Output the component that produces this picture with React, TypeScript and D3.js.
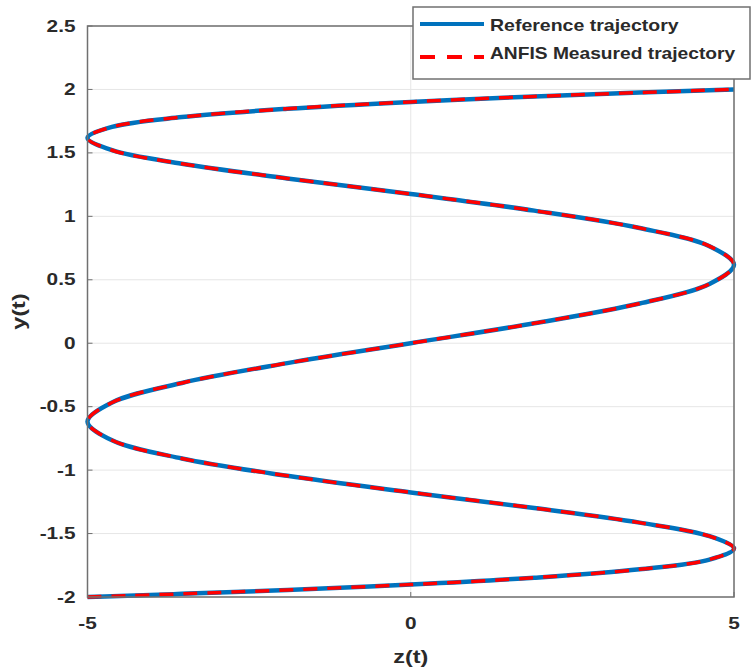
import React from "react";
import * as d3 from "d3";

// Points read along the trajectory (y(t), z(t)), bottom to top
const yValues = [
  -2, -1.994, -1.975, -1.945, -1.902, -1.848, -1.782, -1.705, -1.618, -1.521,
  -1.414, -1.299, -1.176, -1.045, -0.908, -0.765, -0.618, -0.467, -0.313, -0.157,
  0,
  0.157, 0.313, 0.467, 0.618, 0.765, 0.908, 1.045, 1.176, 1.299, 1.414,
  1.521, 1.618, 1.705, 1.782, 1.848, 1.902, 1.945, 1.975, 1.994, 2,
];
const zValues = [
  -5, -4.62, -3.54, -1.91, 0, 1.91, 3.54, 4.62, 5, 4.62,
  3.54, 1.91, 0, -1.91, -3.54, -4.62, -5, -4.62, -3.54, -1.91,
  0,
  1.91, 3.54, 4.62, 5, 4.62, 3.54, 1.91, 0, -1.91, -3.54,
  -4.62, -5, -4.62, -3.54, -1.91, 0, 1.91, 3.54, 4.62, 5,
];
const xTicks = [-5, 0, 5];
const yTicks = [-2, -1.5, -1, -0.5, 0, 0.5, 1, 1.5, 2, 2.5];
const seriesNames = ["Reference trajectory", "ANFIS Measured trajectory"];

const TXT = "#2a2a2a";

function Txt(props: {
  x: number;
  y: number;
  size: number;
  anchor?: "start" | "middle" | "end";
  rotate?: number;
  sx?: number;
  children: React.ReactNode;
}) {
  const { x, y, size, anchor = "start", rotate = 0, sx = 1.3, children } = props;
  return (
    <g transform={`translate(${x},${y}) rotate(${rotate}) scale(${sx},1)`}>
      <text
        x={0}
        y={0}
        textAnchor={anchor}
        dominantBaseline="central"
        fontSize={size}
        fontWeight="bold"
        fill={TXT}
      >
        {children}
      </text>
    </g>
  );
}

export default function App() {
  const W = 751, H = 672;
  const left = 87.5, right = 734, top = 26, bottom = 597;
  const x = d3.scaleLinear().domain([-5, 5]).range([left, right]);
  const y = d3.scaleLinear().domain([-2, 2.5]).range([bottom, top]);
  const pts: [number, number][] = zValues.map((z, i) => [z, yValues[i]]);
  const line = d3
    .line<[number, number]>()
    .x((d) => x(d[0]))
    .y((d) => y(d[1]))
    .curve(d3.curveCatmullRom.alpha(0.5));
  const path = line(pts) || "";
  const font = "'Liberation Sans', Arial, sans-serif";
  const axisCol = "#707070";
  return (
    <svg
      width={W}
      height={H}
      style={{ position: "absolute", left: 0, top: 0, background: "#fff" }}
      fontFamily={font}
    >
      <rect x={0} y={0} width={W} height={H} fill="#fff" />
      {/* grid */}
      {yTicks.map((t) => (
        <line key={"gy" + t} x1={left} x2={right} y1={y(t)} y2={y(t)} stroke="#e6e6e6" strokeWidth={1} />
      ))}
      {xTicks.map((t) => (
        <line key={"gx" + t} x1={x(t)} x2={x(t)} y1={top} y2={bottom} stroke="#e6e6e6" strokeWidth={1} />
      ))}
      {/* ticks */}
      {yTicks.map((t) => (
        <line key={"ty" + t} x1={left} x2={left + 5} y1={y(t)} y2={y(t)} stroke={axisCol} strokeWidth={1} />
      ))}
      {xTicks.map((t) => (
        <line key={"tx" + t} x1={x(t)} x2={x(t)} y1={bottom} y2={bottom - 5} stroke={axisCol} strokeWidth={1} />
      ))}
      {/* curves */}
      <path d={path} fill="none" stroke="#0072BD" strokeWidth={4.5} />
      <path d={path} fill="none" stroke="#FF0000" strokeWidth={3.5} strokeDasharray="14,10" />
      {/* axes box */}
      <rect x={left} y={top} width={right - left} height={bottom - top} fill="none" stroke={axisCol} strokeWidth={1.5} />
      {/* tick labels */}
      {yTicks.map((t) => (
        <Txt key={"ly" + t} x={left - 12} y={y(t)} size={16} anchor="end">
          {t}
        </Txt>
      ))}
      {xTicks.map((t) => (
        <Txt key={"lx" + t} x={x(t)} y={bottom + 26} size={16} anchor="middle">
          {t}
        </Txt>
      ))}
      {/* axis labels */}
      <Txt x={(left + right) / 2} y={657} size={18} anchor="middle">
        z(t)
      </Txt>
      <Txt x={19} y={(top + bottom) / 2} size={18} anchor="middle" rotate={-90}>
        y(t)
      </Txt>
      {/* legend */}
      <g>
        <rect x={413} y={7} width={337} height={72} fill="#fff" stroke={axisCol} strokeWidth={1.5} />
        <line x1={420} x2={484} y1={24} y2={24} stroke="#0072BD" strokeWidth={4} />
        <Txt x={490} y={26} size={16} sx={1.22}>
          {seriesNames[0]}
        </Txt>
        <line x1={420} x2={484} y1={57} y2={57} stroke="#FF0000" strokeWidth={4} strokeDasharray="15,12" />
        <Txt x={490} y={54} size={16} sx={1.2}>
          {seriesNames[1]}
        </Txt>
      </g>
    </svg>
  );
}
